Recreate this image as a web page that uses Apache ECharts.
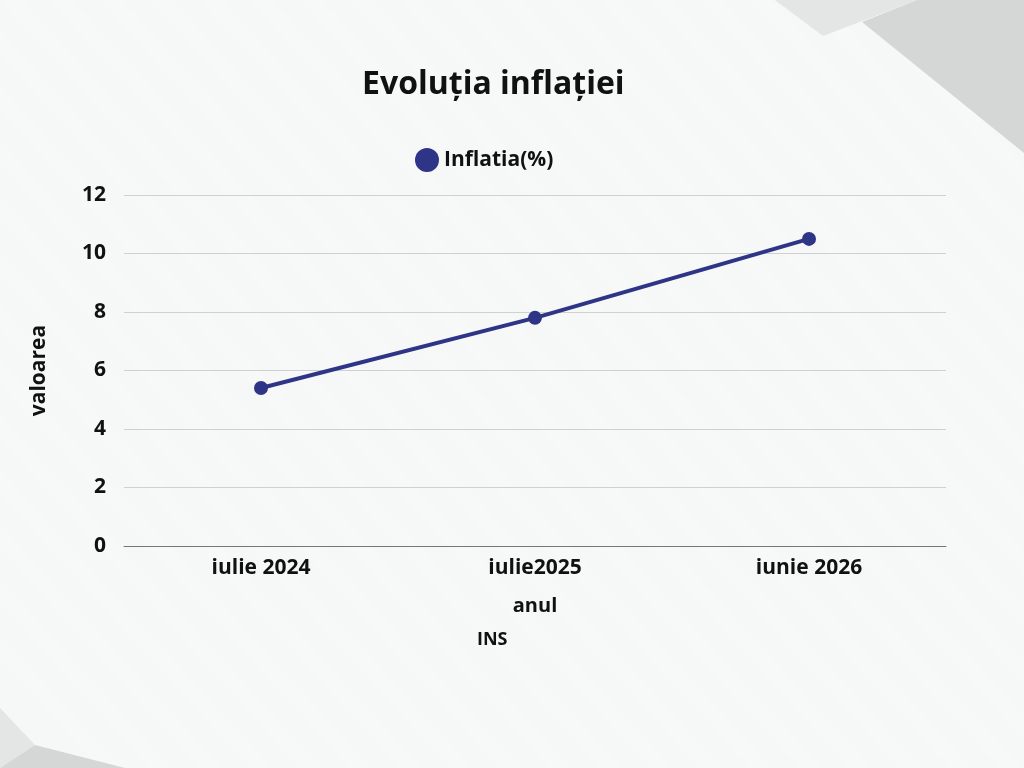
<!DOCTYPE html>
<html>
<head>
<meta charset="utf-8">
<script src="https://cdn.jsdelivr.net/npm/echarts@6/dist/echarts.min.js"></script>
<style>
html,body{margin:0;padding:0;background:#f8f9f9;}
#chart{width:1024px;height:768px;}
</style>
</head>
<body>
<div id="chart"></div>
<script>
const titleText = 'Evoluția inflației';
const seriesName = 'Inflatia(%)';
const categories = ['iulie 2024', 'iulie2025', 'iunie 2026'];
const inflationValues = [5.4, 7.8, 10.5];
const yAxisName = 'valoarea';
const xAxisName = 'anul';
const sourceText = 'INS';

const FONT = '"Open Sans", Lato, sans-serif';
const stripes = [];
for (let i = -12; i < 30; i++) {
  const x0 = i * 50;
  stripes.push({
    type: 'polygon', silent: true, z: -9,
    shape: { points: [[x0, 0], [x0 + 22, 0], [x0 + 22 + 700, 768], [x0 + 700, 768]] },
    style: { fill: 'rgba(255,255,255,0.2)' }
  });
}
const chart = echarts.init(document.getElementById('chart'));
chart.setOption({
  backgroundColor: '#f6f7f7',
  graphic: [
    ...stripes,
    { type: 'polygon', silent: true, z: -5, shape: { points: [[775,0],[823,36],[917,0]] }, style: { fill: '#e4e5e5' } },
    { type: 'polygon', silent: true, z: -4, shape: { points: [[862,22],[917,0],[1024,0],[1024,153]] }, style: { fill: '#d5d6d6' } },
    { type: 'polygon', silent: true, z: -5, shape: { points: [[0,708],[35,745],[0,768]] }, style: { fill: '#e4e5e5' } },
    { type: 'polygon', silent: true, z: -4, shape: { points: [[35,745],[125,768],[0,768]] }, style: { fill: '#d5d6d6' } },
    { type: 'text', left: 477, top: 631, style: { text: sourceText, font: 'bold 18px ' + FONT, fill: '#111' } }
  ],
  title: {
    text: titleText, left: 357, top: 64,
    textStyle: { fontFamily: FONT, fontSize: 32, fontWeight: 'bold', color: '#111' }
  },
  legend: {
    data: [seriesName], top: 143, left: 410,
    icon: 'circle', itemWidth: 24, itemHeight: 24, itemGap: 10,
    textStyle: { fontFamily: FONT, fontSize: 21, fontWeight: 'bold', color: '#111' }
  },
  grid: { left: 124, right: 78, top: 195, bottom: 222 },
  xAxis: {
    type: 'category', data: categories, boundaryGap: true,
    name: xAxisName, nameLocation: 'middle', nameGap: 50,
    nameTextStyle: { fontFamily: FONT, fontSize: 20, fontWeight: 'bold', color: '#111' },
    axisLine: { show: true, lineStyle: { color: '#777', width: 1 } },
    axisTick: { show: false },
    axisLabel: { margin: 12, fontFamily: FONT, fontSize: 21, fontWeight: 'bold', color: '#111' }
  },
  yAxis: {
    type: 'value', min: 0, max: 12, interval: 2,
    name: yAxisName, nameLocation: 'middle', nameGap: 74, nameRotate: 90,
    nameTextStyle: { fontFamily: FONT, fontSize: 21, fontWeight: 'bold', color: '#111' },
    axisLine: { show: false }, axisTick: { show: false },
    axisLabel: { margin: 18, fontFamily: FONT, fontSize: 21, fontWeight: 'bold', color: '#111' },
    splitLine: { lineStyle: { color: '#cfd0d0', width: 1 } }
  },
  series: [{
    name: seriesName, type: 'line', data: inflationValues,
    symbol: 'circle', symbolSize: 14,
    itemStyle: { color: '#2e3586' },
    lineStyle: { color: '#2e3586', width: 4 }
  }]
});
</script>
</body>
</html>
